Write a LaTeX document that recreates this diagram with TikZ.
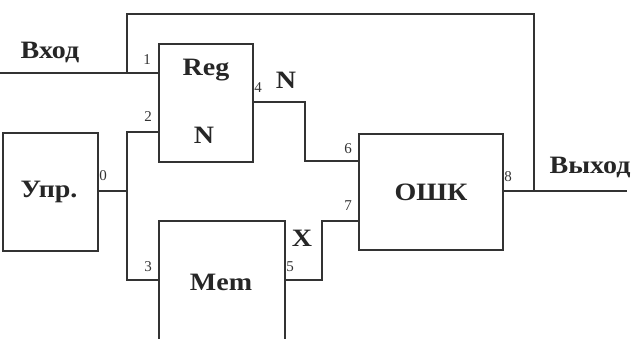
\documentclass[tikz,border=0pt]{standalone}
\usepackage{fontspec}
\setmainfont{Liberation Serif}
\begin{document}
\begin{tikzpicture}[x=1pt,y=-1pt,
  blk/.style={draw,line width=1.6pt,rectangle,anchor=north west,inner sep=0pt,draw=black!80},
  wire/.style={line width=1.5pt,draw=black!80},
  big/.style={font=\fontsize{25}{25}\selectfont\bfseries,inner sep=0pt,xscale=1.12,text=black!85},
  pin/.style={font=\fontsize{15}{15}\selectfont,inner sep=0pt,text=black!80}]
\useasboundingbox (0,0) rectangle (635,338);
\clip (0,0) rectangle (635,338);
% blocks
\node[blk,minimum width=94pt,minimum height=118pt] (reg) at (158,43) {};
\node[blk,minimum width=95pt,minimum height=118pt] (upr) at (2,132) {};
\node[blk,minimum width=126pt,minimum height=140pt] (mem) at (158,220) {};
\node[blk,minimum width=144pt,minimum height=116pt] (osk) at (358,133) {};
% block texts
\node[big] (tReg) at (206,70) {Reg};
\node[big] (tRegN) at (204,135) {N};
\node[big] (tUpr) at (49,192) {Упр.};
\node[big] (tMem) at (221,282) {Mem};
\node[big] (tOsk) at (431,192) {ОШК};
\node[big] (tIn) at (50,52) {Вход};
\node[big] (tOut) at (590,167) {Выход};
\node[big] (tN) at (286,80) {N};
\node[big] (tX) at (302,238) {X};
% pin numbers
\node[pin] (p1) at (147,60) {1};
\node[pin] (p2) at (148,117) {2};
\node[pin] (p0) at (103,176) {0};
\node[pin] (p3) at (148,267) {3};
\node[pin] (p4) at (258,88) {4};
\node[pin] (p5) at (290,267) {5};
\node[pin] (p6) at (348,149) {6};
\node[pin] (p7) at (348,206) {7};
\node[pin] (p8) at (508,177) {8};
% coordinates
\coordinate (inL) at (0,73);
\coordinate (j1) at (127,73);
\coordinate (t1) at (127,14);
\coordinate (t2) at (534,14);
\coordinate (j8) at (534,191);
\coordinate (outR) at (627,191);
% wires
\draw[wire] (inL) -- (reg.west |- inL);
\draw[wire] (j1) -- (t1) -- (t2) -- (j8);
\draw[wire] (osk.east |- j8) -- (outR);
\draw[wire] (upr.east |- 0,191) -- (127,191);
\draw[wire] (reg.west |- 0,132) -- (127,132) -- (127,280) -- (mem.west |- 0,280);
\draw[wire] (reg.east |- 0,102) -- (305,102) -- (305,161) -- (osk.west |- 0,161);
\draw[wire] (mem.east |- 0,280) -- (322,280) -- (322,221) -- (osk.west |- 0,221);
\end{tikzpicture}
\end{document}
